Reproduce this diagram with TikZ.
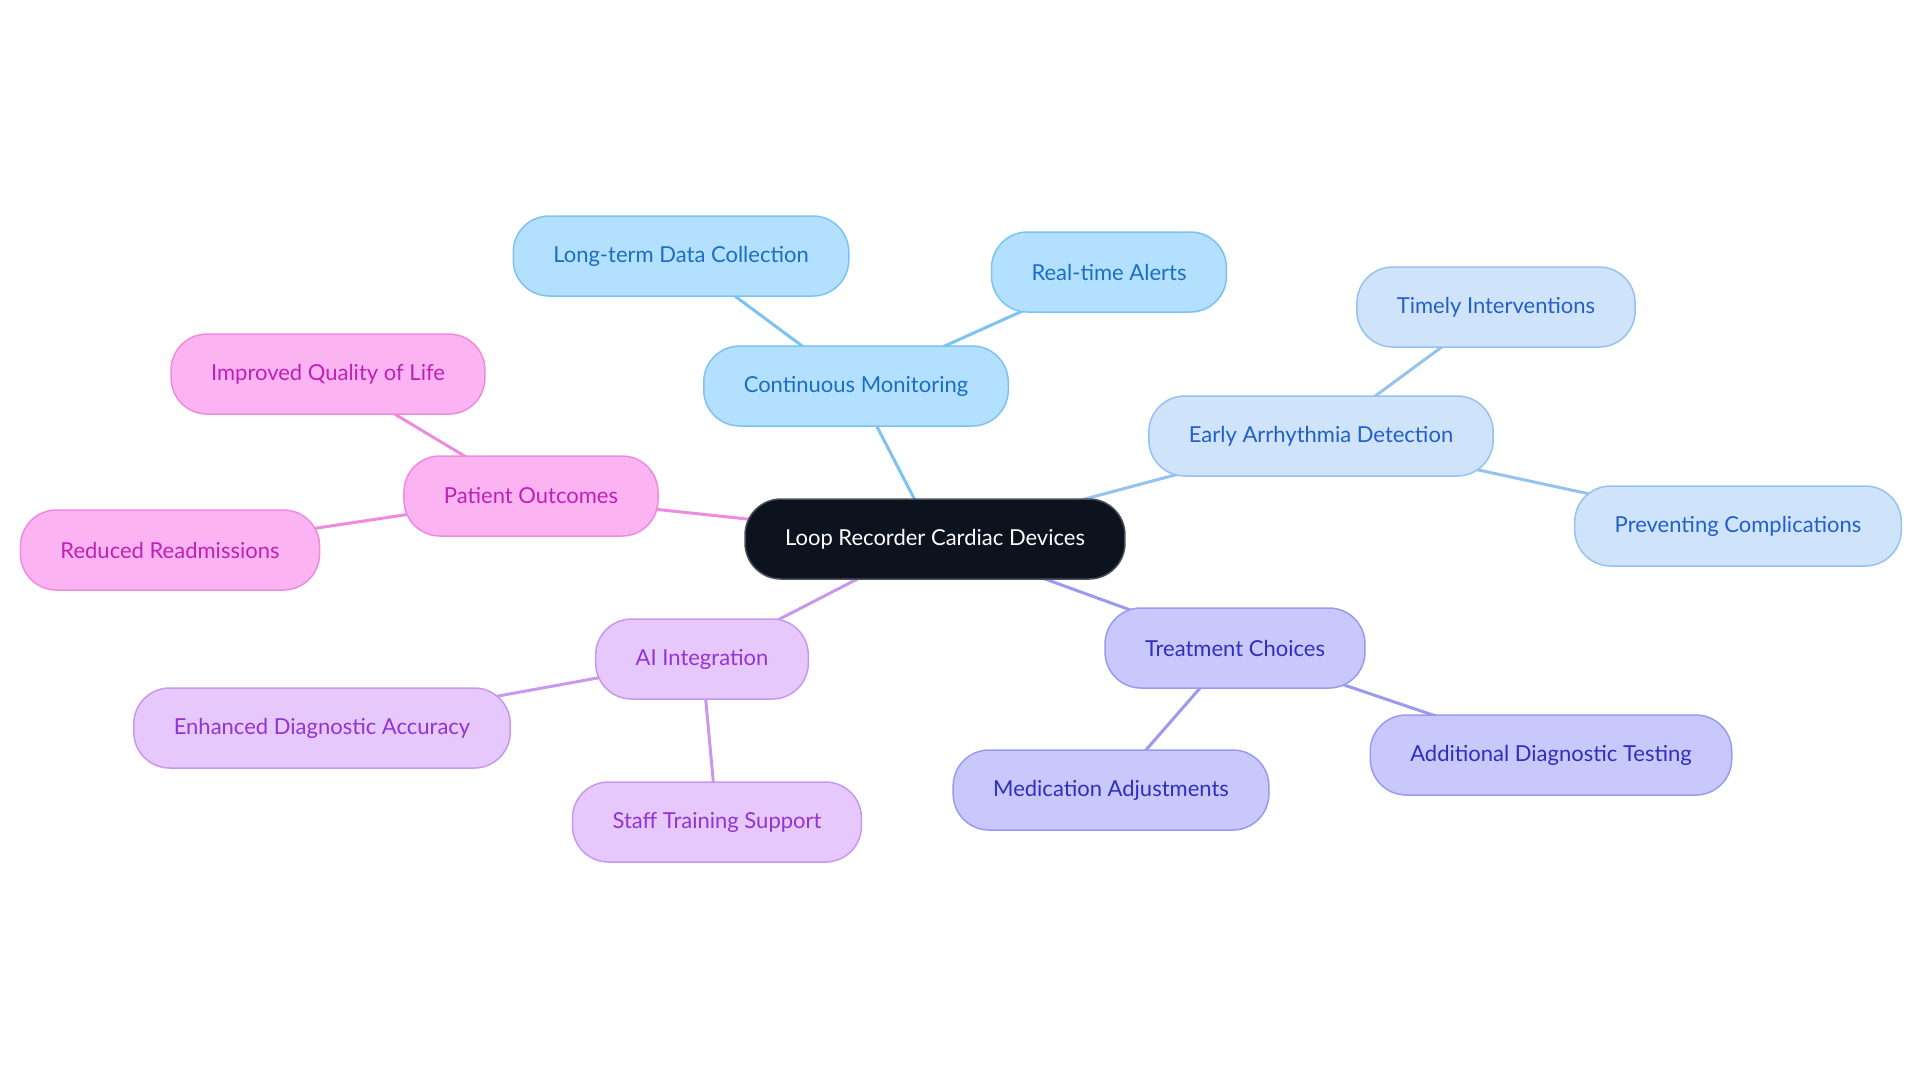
\documentclass[tikz,border=0pt]{standalone}
\usepackage{fontspec}
\setmainfont{Lato}
\usetikzlibrary{backgrounds}

\definecolor{rootfill}{HTML}{0D131E}
\definecolor{rootline}{HTML}{4A4F58}
\definecolor{monfill}{HTML}{B3E0FF}
\definecolor{monline}{HTML}{7CC2F2}
\definecolor{montext}{HTML}{1A6EC4}
\definecolor{detfill}{HTML}{CFE3FA}
\definecolor{detline}{HTML}{96C2EF}
\definecolor{dettext}{HTML}{2060CC}
\definecolor{trtfill}{HTML}{C8C8FC}
\definecolor{trtline}{HTML}{9A9AF0}
\definecolor{trttext}{HTML}{2E2EC0}
\definecolor{aifill}{HTML}{E6C8FC}
\definecolor{ailine}{HTML}{C898EE}
\definecolor{aitext}{HTML}{9333D6}
\definecolor{patfill}{HTML}{FCB3F2}
\definecolor{patline}{HTML}{EE8BDF}
\definecolor{pattext}{HTML}{C020B8}

\begin{document}
\begin{tikzpicture}[x=0.5pt,y=-0.5pt,
  box/.style={rounded corners=18pt, minimum height=40pt, inner xsep=20pt,
              line width=0.75pt, font=\fontsize{11}{13}\selectfont},
  rootbox/.style={box, fill=rootfill, draw=rootline, text=white},
  monbox/.style={box, fill=monfill, draw=monline, text=montext},
  detbox/.style={box, fill=detfill, draw=detline, text=dettext},
  trtbox/.style={box, fill=trtfill, draw=trtline, text=trttext},
  aibox/.style={box, fill=aifill, draw=ailine, text=aitext},
  patbox/.style={box, fill=patfill, draw=patline, text=pattext},
  link/.style={line width=1.5pt},
]
\useasboundingbox (0,0) rectangle (1920,1083);

% root
\node[rootbox] (root) at (935,539) {Loop Recorder Cardiac Devices};

%% continuous monitoring
\node[monbox] (mon) at (856,386) {Continuous Monitoring};
\node[monbox] (longterm) at (681,256) {Long-term Data Collection};
\node[monbox] (alerts) at (1109,272) {Real-time Alerts};

%% early detection
\node[detbox] (detect) at (1321,436) {Early Arrhythmia Detection};
\node[detbox] (timely) at (1496,307) {Timely Interventions};
\node[detbox] (prevent) at (1738,526) {Preventing Complications};

%% treatment
\node[trtbox] (treat) at (1235,648) {Treatment Choices};
\node[trtbox] (meds) at (1111,790) {Medication Adjustments};
\node[trtbox] (testing) at (1551,755) {Additional Diagnostic Testing};

%% AI
\node[aibox] (ai) at (702,659) {AI Integration};
\node[aibox] (accuracy) at (322,728) {Enhanced Diagnostic Accuracy};
\node[aibox] (training) at (717,822) {Staff Training Support};

%% patient outcomes
\node[patbox] (outcomes) at (531,496) {Patient Outcomes};
\node[patbox] (quality) at (328,374) {Improved Quality of Life};
\node[patbox] (readmit) at (170,550) {Reduced Readmissions};

% connectors, centre to centre under the boxes
\begin{scope}[on background layer]
  \draw[link, monline] (root.center) -- (mon.center);
  \draw[link, monline] (mon.center) -- (longterm.center);
  \draw[link, monline] (mon.center) -- (alerts.center);
  \draw[link, detline] (root.center) -- (detect.center);
  \draw[link, detline] (detect.center) -- (timely.center);
  \draw[link, detline] (detect.center) -- (prevent.center);
  \draw[link, trtline] (root.center) -- (treat.center);
  \draw[link, trtline] (treat.center) -- (meds.center);
  \draw[link, trtline] (treat.center) -- (testing.center);
  \draw[link, ailine] (root.center) -- (ai.center);
  \draw[link, ailine] (ai.center) -- (accuracy.center);
  \draw[link, ailine] (ai.center) -- (training.center);
  \draw[link, patline] (root.center) -- (outcomes.center);
  \draw[link, patline] (outcomes.center) -- (quality.center);
  \draw[link, patline] (outcomes.center) -- (readmit.center);
\end{scope}
\end{tikzpicture}
\end{document}
